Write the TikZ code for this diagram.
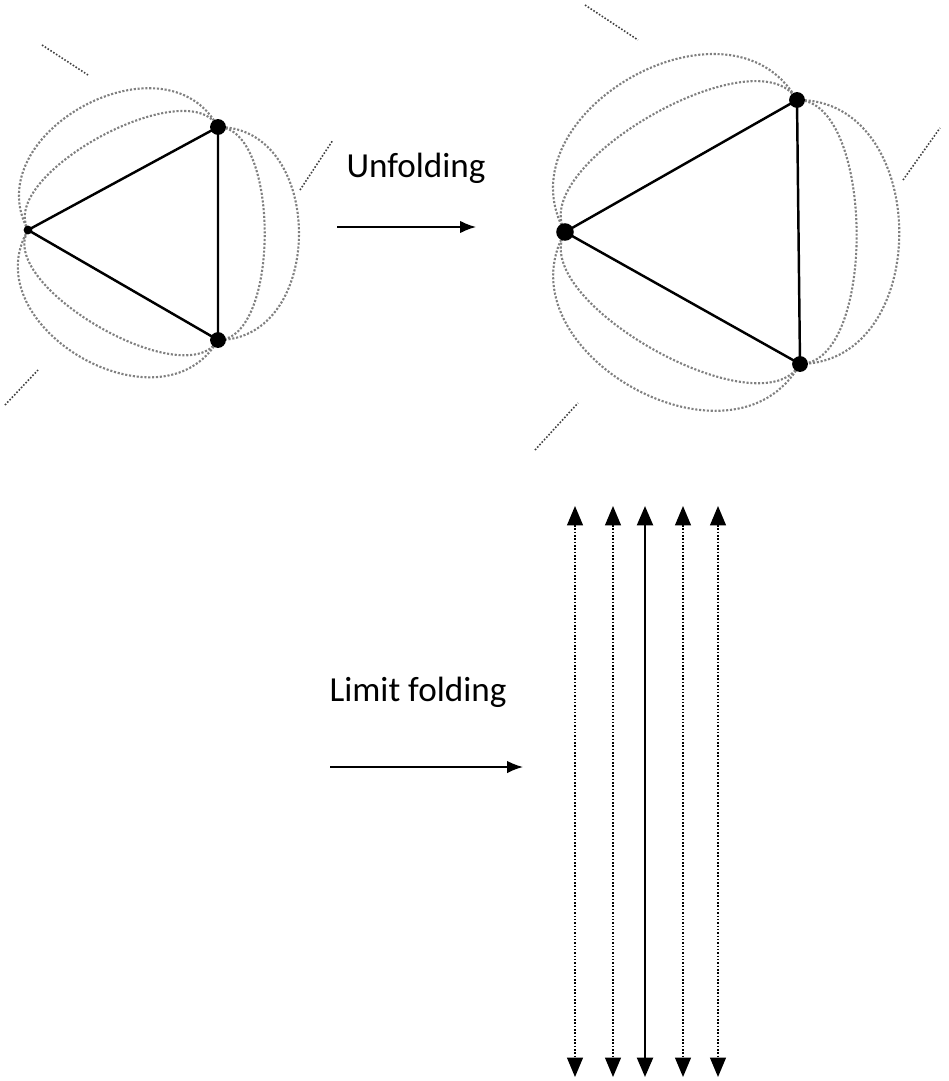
\documentclass[tikz,border=0pt]{standalone}
\usepackage{fontspec}
\setmainfont{Carlito}
\usetikzlibrary{arrows.meta}
\begin{document}
\begin{tikzpicture}[x=0.02cm,y=-0.02cm,
  tri/.style={line width=1.4pt},
  lobe/.style={gray,line width=1.2pt,densely dotted},
  tick/.style={darkgray,line width=0.9pt,densely dotted},
  vdot/.style={circle,fill=black,inner sep=0pt,minimum size=9pt},
  lbl/.style={font=\fontsize{20}{24}\selectfont},
  arr/.style={line width=0.9pt,-{Latex[length=9pt,width=7pt]}},
  varr/.style={line width=0.9pt,densely dotted,{Triangle[length=11pt,width=9pt]}-{Triangle[length=11pt,width=9pt]}},
  varrs/.style={line width=1.5pt,{Triangle[length=11pt,width=9pt]}-{Triangle[length=11pt,width=9pt]}}]
\useasboundingbox (0,0) rectangle (948,1081);
% left triangle
\coordinate (la) at (28,230); \coordinate (lb) at (218,127); \coordinate (lc) at (218,340);
\draw[tri] (la) -- (lb) -- (lc) -- cycle;
\foreach \p/\q in {la/lb,lb/lc,lc/la}{
  \draw[lobe] (\p) to[bend left=90,looseness=1.3] (\q);
  \draw[lobe] (\p) to[bend left=90,looseness=0.75] (\q);}
\node[vdot,minimum size=5pt] (va) at (la) {};
\node[vdot] (vb) at (lb) {};
\node[vdot] (vc) at (lc) {};
\coordinate (t1a) at (42,45); \coordinate (t1b) at (88,75);
\coordinate (t2a) at (300,190); \coordinate (t2b) at (333,140);
\coordinate (t3a) at (5,405); \coordinate (t3b) at (38,370);
\draw[tick] (t1a) -- (t1b); \draw[tick] (t2a) -- (t2b); \draw[tick] (t3a) -- (t3b);
% right triangle
\coordinate (ra) at (565,232); \coordinate (rb) at (797,100); \coordinate (rc) at (800,364);
\draw[tri] (ra) -- (rb) -- (rc) -- cycle;
\foreach \p/\q in {ra/rb,rb/rc,rc/ra}{
  \draw[lobe] (\p) to[bend left=90,looseness=1.3] (\q);
  \draw[lobe] (\p) to[bend left=90,looseness=0.75] (\q);}
\node[vdot,minimum size=10pt] (wa) at (ra) {};
\node[vdot] (wb) at (rb) {};
\node[vdot] (wc) at (rc) {};
\coordinate (s1a) at (585,5); \coordinate (s1b) at (638,40);
\coordinate (s2a) at (903,180); \coordinate (s2b) at (940,128);
\coordinate (s3a) at (535,450); \coordinate (s3b) at (578,403);
\draw[tick] (s1a) -- (s1b); \draw[tick] (s2a) -- (s2b); \draw[tick] (s3a) -- (s3b);
% labels and arrows
\node[lbl] (unf) at (416,168) {Unfolding};
\coordinate (u1) at (337,227); \coordinate (u2) at (476,227);
\draw[arr] (u1) -- (u2);
\node[lbl] (lim) at (418,692) {Limit folding};
\coordinate (m1) at (330,767); \coordinate (m2) at (523,767);
\draw[arr] (m1) -- (m2);
% vertical arrows
\foreach \x/\s in {575/varr,613/varr,645/varrs,683/varr,718/varr}{
  \coordinate (top\x) at (\x,506); \coordinate (bot\x) at (\x,1077);
  \draw[\s] (top\x) -- (bot\x);}
\end{tikzpicture}
\end{document}
